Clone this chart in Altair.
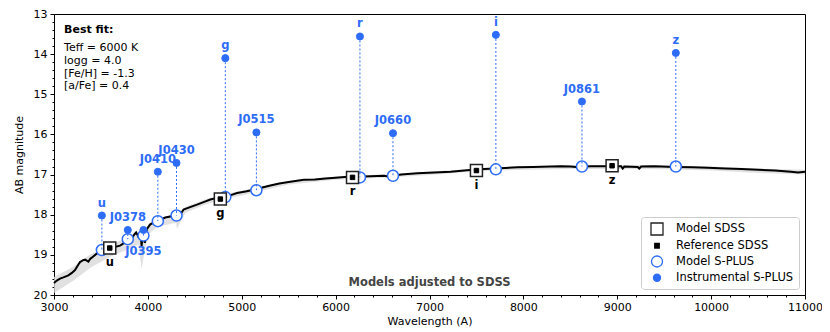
import altair as alt
import pandas as pd

# ---------------- data ----------------
spec_wave = [3000, 3030, 3064, 3100, 3153, 3190, 3224, 3260, 3277, 3310, 3331, 3366, 3385, 3402,
             3455, 3526, 3580, 3633, 3704, 3758, 3800, 3829, 3860, 3875, 3900, 3925, 3933, 3945,
             3968, 3989, 4025, 4060, 4096, 4102, 4110, 4185, 4273, 4300, 4327, 4340, 4380, 4450,
             4523, 4600, 4665, 4740, 4807, 4861, 4950, 5040, 5127, 5175, 5220, 5305, 5400, 5483,
             5570, 5661, 5780, 5892, 6000, 6159, 6300, 6514, 6563, 6700, 6871, 7050, 7226, 7400,
             7582, 7750, 7938, 8100, 8293, 8400, 8500, 8560, 8596, 8640, 8720, 8900, 9041, 9058,
             9075, 9218, 9235, 9255, 9396, 9610, 9800, 9966, 10150, 10322, 10500, 10678, 10850,
             10926, 11000]
spec_mag = [19.70, 19.64, 19.59, 19.56, 19.51, 19.45, 19.38, 19.24, 19.18, 19.13, 19.12, 19.17, 19.10, 19.07,
            18.97, 18.89, 18.84, 18.81, 18.77, 18.69, 18.63, 18.58, 18.48, 18.44, 18.55, 18.52, 18.78, 18.50,
            18.70, 18.36, 18.24, 18.20, 18.16, 18.22, 18.15, 18.07, 18.03, 18.06, 17.99, 18.02, 17.87, 17.81,
            17.75, 17.68, 17.62, 17.58, 17.54, 17.53, 17.46, 17.42, 17.38, 17.38, 17.32, 17.27, 17.22, 17.19,
            17.16, 17.13, 17.12, 17.10, 17.08, 17.05, 17.05, 17.03, 17.05, 17.00, 16.97, 16.95, 16.93, 16.89,
            16.86, 16.84, 16.82, 16.81, 16.80, 16.79, 16.80, 16.81, 16.85, 16.80, 16.79, 16.79, 16.79, 16.85,
            16.80, 16.81, 16.85, 16.80, 16.79, 16.81, 16.82, 16.83, 16.85, 16.86, 16.88, 16.90, 16.93,
            16.95, 16.93]

band_wave = [3000, 3200, 3400, 3600, 3800, 3900, 3933, 3960, 4000, 4100, 4300, 4310, 4400, 4600, 4800,
             5000, 5200, 5500, 6000, 6500, 7000, 7500, 8000, 8500, 9000, 9500, 10000, 10500, 11000]
band_top = [19.55, 19.30, 18.97, 18.75, 18.55, 18.45, 18.60, 18.50, 18.25, 18.10, 17.98, 17.98, 17.80, 17.63, 17.49,
            17.40, 17.30, 17.16, 17.05, 17.00, 16.93, 16.85, 16.79, 16.77, 16.76, 16.77, 16.80, 16.85, 16.88]
band_bot = [19.95, 19.65, 19.30, 19.05, 18.85, 18.75, 19.35, 19.00, 18.50, 18.30, 18.20, 18.35, 17.95, 17.76, 17.62,
            17.52, 17.41, 17.25, 17.13, 17.08, 17.01, 16.92, 16.88, 16.86, 16.86, 16.87, 16.90, 16.96, 17.00]

splus_names = ["u", "J0378", "J0395", "J0410", "J0430", "g", "J0515", "r", "J0660", "i", "J0861", "z"]
splus_wave = [3510, 3786, 3953, 4106, 4305, 4825, 5156, 6259, 6611, 7707, 8624, 9624]
splus_instr = [18.02, 18.38, 18.38, 16.93, 16.71, 14.10, 15.95, 13.56, 15.97, 13.52, 15.18, 13.97]
splus_model = [18.88, 18.61, 18.52, 18.16, 18.02, 17.56, 17.39, 17.07, 17.03, 16.87, 16.80, 16.80]

sdss_names = ["u", "g", "r", "i", "z"]
sdss_wave = [3594, 4772, 6180, 7500, 8945]
sdss_model = [18.83, 17.61, 17.07, 16.90, 16.78]
sdss_ref = [18.83, 17.61, 17.07, 16.90, 16.78]

info_lines = ["Teff = 6000 K", "logg = 4.0", "[Fe/H] = -1.3", "[a/Fe] = 0.4"]
info_y = [13.84, 14.17, 14.49, 14.79]

series_names = ["Model SDSS", "Reference SDSS", "Model S-PLUS", "Instrumental S-PLUS"]

x_ticks = list(range(3000, 11001, 200))
y_ticks = [13 + k / 5 for k in range(36)]

BLUE = "#2d6cf6"
FONT = "DejaVu Sans"
TFS = 11.5

# ---------------- frames ----------------
spec_df = pd.DataFrame({"wave": spec_wave, "mag": spec_mag})
band_df = pd.DataFrame({"wave": band_wave, "top": band_top, "bot": band_bot})
splus_df = pd.DataFrame({"name": splus_names, "wave": splus_wave,
                         "instr": splus_instr, "model": splus_model})
pts = []
for w, m in zip(splus_wave, splus_model):
    pts.append({"series": "Model S-PLUS", "wave": w, "mag": m})
for w, m in zip(splus_wave, splus_instr):
    pts.append({"series": "Instrumental S-PLUS", "wave": w, "mag": m})
for w, m in zip(sdss_wave, sdss_model):
    pts.append({"series": "Model SDSS", "wave": w, "mag": m})
for w, m in zip(sdss_wave, sdss_ref):
    pts.append({"series": "Reference SDSS", "wave": w, "mag": m})
pts_df = pd.DataFrame(pts)
sdss_df = pd.DataFrame({"name": sdss_names, "wave": sdss_wave, "mag": sdss_model})
info_df = pd.DataFrame({"wave": [3107] * len(info_lines), "mag": info_y, "text": info_lines})

# ---------------- scales ----------------
xs = alt.Scale(domain=[3000, 11000], nice=False, zero=False, padding=0)
ys = alt.Scale(domain=[13, 20], nice=False, zero=False, reverse=True, padding=0)

x_axis = alt.Axis(
    title="Wavelength (A)", values=x_ticks,
    labelExpr="datum.value % 1000 === 0 ? datum.label : ''",
    tickSize={"condition": {"test": "datum.value % 1000 === 0", "value": 4}, "value": 2},
    format="d", labelPadding=2, titlePadding=3, labelFlush=False, labelOverlap=False,
)
y_axis = alt.Axis(
    title="AB magnitude", values=y_ticks,
    labelExpr="abs(datum.value - round(datum.value)) < 0.001 ? format(datum.value, 'd') : ''",
    tickSize={"condition": {"test": "abs(datum.value - round(datum.value)) < 0.001", "value": 4}, "value": 2},
    labelPadding=3, titlePadding=9, labelFlush=False, labelOverlap=False,
)

X = alt.X("wave:Q", scale=xs, axis=x_axis)
Y = alt.Y("mag:Q", scale=ys, axis=y_axis)

leg = alt.Legend(title=None, orient="bottom-right", offset=6)
shape_enc = alt.Shape("series:N", scale=alt.Scale(domain=series_names,
                      range=["square", "square", "circle", "circle"]), legend=leg)
fill_enc = alt.Fill("series:N", scale=alt.Scale(domain=series_names,
                    range=["white", "black", "white", BLUE]), legend=leg)
stroke_enc = alt.Stroke("series:N", scale=alt.Scale(domain=series_names,
                        range=["#222222", "black", BLUE, BLUE]), legend=leg)
size_enc = alt.Size("series:N", scale=alt.Scale(type="ordinal", domain=series_names,
                    range=[144, 20, 121, 50]), legend=leg)


def point_layer(name, sw):
    return alt.Chart(pts_df).transform_filter(alt.datum.series == name).mark_point(
        opacity=1, strokeWidth=sw
    ).encode(x=X, y=Y, shape=shape_enc, fill=fill_enc, stroke=stroke_enc, size=size_enc)


band = alt.Chart(band_df).mark_area(color="#d9d9d9", opacity=0.8).encode(
    x=alt.X("wave:Q", scale=xs, axis=x_axis),
    y=alt.Y("top:Q", scale=ys, axis=y_axis),
    y2="bot:Q",
)
line = alt.Chart(spec_df).mark_line(color="black", strokeWidth=2).encode(x=X, y=Y)

rules = alt.Chart(splus_df).mark_rule(color=BLUE, strokeDash=[2, 2], strokeWidth=1).encode(
    x=alt.X("wave:Q", scale=xs, axis=x_axis),
    y=alt.Y("instr:Q", scale=ys, axis=y_axis),
    y2="model:Q",
)

splus_lab = alt.Chart(splus_df).transform_filter(alt.datum.name != "J0395").mark_text(
    dy=-12, color=BLUE, fontWeight="bold", fontSize=TFS, font=FONT
).encode(x=alt.X("wave:Q", scale=xs, axis=x_axis),
         y=alt.Y("instr:Q", scale=ys, axis=y_axis), text="name:N")
j0395_lab = alt.Chart(splus_df).transform_filter(alt.datum.name == "J0395").mark_text(
    dy=16, color=BLUE, fontWeight="bold", fontSize=TFS, font=FONT
).encode(x=alt.X("wave:Q", scale=xs, axis=x_axis),
         y=alt.Y("model:Q", scale=ys, axis=y_axis), text="name:N")
sdss_lab = alt.Chart(sdss_df).mark_text(
    dy=15, color="black", fontWeight="bold", fontSize=TFS, font=FONT
).encode(x=X, y=Y, text="name:N")

info = alt.Chart(info_df).mark_text(align="left", color="black", fontSize=11, font=FONT).encode(
    x=X, y=Y, text="text:N")
best = alt.Chart(pd.DataFrame({"wave": [3107], "mag": [13.39], "text": ["Best fit:"]})).mark_text(
    align="left", color="black", fontSize=11, font=FONT, fontWeight="bold").encode(
    x=X, y=Y, text="text:N")
note = alt.Chart(pd.DataFrame({"wave": [7000], "mag": [19.70], "text": ["Models adjusted to SDSS"]})).mark_text(
    align="center", color="#444444", fontSize=TFS, font=FONT, fontWeight="bold").encode(
    x=X, y=Y, text="text:N")

chart = alt.layer(
    band, line,
    point_layer("Model S-PLUS", 1.5),
    rules,
    point_layer("Instrumental S-PLUS", 1),
    point_layer("Model SDSS", 1.5),
    point_layer("Reference SDSS", 1),
    splus_lab, j0395_lab, sdss_lab, info, best, note,
).properties(
    width=751, height=281,
    autosize=alt.AutoSizeParams(type="none"),
    padding={"left": 46, "top": 6, "right": 17, "bottom": 37},
).configure_view(
    stroke="black", strokeWidth=1
).configure_axis(
    grid=False, labelFont=FONT, labelFontSize=11, labelColor="black",
    titleFont=FONT, titleFontSize=11, titleFontWeight="normal", titleColor="black",
    domainColor="black", tickColor="black", tickWidth=1,
).configure_legend(
    labelFont=FONT, labelFontSize=TFS, labelColor="black",
    strokeColor="#cccccc", fillColor="white", padding=5, cornerRadius=3,
    rowPadding=1, symbolOffset=4, labelOffset=12, symbolStrokeWidth=1.3,
)

chart.save("out.html", embed_options={"renderer": "svg", "actions": False})
